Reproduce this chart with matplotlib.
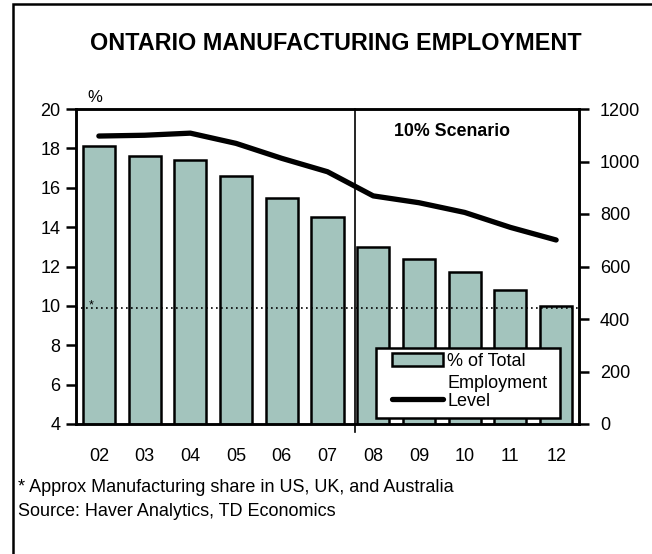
import matplotlib
matplotlib.use("Agg")
import matplotlib.pyplot as plt
from matplotlib.patches import Rectangle
from matplotlib.lines import Line2D

plt.rcParams['font.family'] = ['Liberation Sans', 'DejaVu Sans']

years = ["02", "03", "04", "05", "06", "07", "08", "09", "10", "11", "12"]
share_pct = [18.1, 17.6, 17.4, 16.6, 15.5, 14.5, 13.0, 12.4, 11.7, 10.8, 10.0]
level_thousands = [1097, 1100, 1108, 1069, 1012, 961, 869, 843, 806, 749, 701]
peer_share = 9.9
left_ticks = [4, 6, 8, 10, 12, 14, 16, 18, 20]
right_ticks = [0, 200, 400, 600, 800, 1000, 1200]

W, H = 652, 554
fig = plt.figure(figsize=(W / 100, H / 100), dpi=100)

# outer frame
fig.patches.append(Rectangle((13 / W, -0.05), 1.1, 1 - 4 / H + 0.05,
                             transform=fig.transFigure, fill=False,
                             edgecolor='black', linewidth=1.8))

L, R, T, B = 76, 579, 109, 424
ax = fig.add_axes([L / W, 1 - B / H, (R - L) / W, (B - T) / H])
x = list(range(len(years)))

ax.bar(x, share_pct, width=0.70, bottom=0, color='#A3C4BD',
       edgecolor='black', linewidth=1.8, zorder=2)
ax.axhline(peer_share, color='black', linestyle=(0, (1, 2)), linewidth=1.2, zorder=3)
ax.text(-0.17, peer_share + 0.12, '*', fontsize=9, ha='center', va='center')

# forecast divider, running slightly past the bottom axis
ax.plot([5.6, 5.6], [3.6, 20], color='black', linewidth=1.2, zorder=3, clip_on=False)

ax.set_xlim(-0.5, len(years) - 0.5)
ax.set_ylim(4, 20)
ax.set_yticks(left_ticks)
ax.set_xticks(x)
ax.set_xticklabels(years)
ax.tick_params(axis='x', length=0, pad=17, labelsize=13)
ax.tick_params(axis='y', direction='out', length=7, width=1.8, pad=4, labelsize=13)
for s in ax.spines.values():
    s.set_linewidth(1.8)

ax2 = ax.twinx()
ax2.plot(x, level_thousands, color='black', linewidth=3.8, solid_capstyle='round',
         solid_joinstyle='round', zorder=4)
ax2.set_ylim(0, 1200)
ax2.set_yticks(right_ticks)
ax2.tick_params(axis='y', direction='out', length=7, width=1.8, pad=8, labelsize=13)
for s in ax2.spines.values():
    s.set_linewidth(1.8)

# legend
ax2.add_patch(Rectangle((0.596, 0.019), 0.366, 0.222, transform=ax2.transAxes,
                        facecolor='white', edgecolor='black', linewidth=1.8, zorder=5))
ax2.add_patch(Rectangle((0.628, 0.184), 0.102, 0.041, transform=ax2.transAxes,
                        facecolor='#A3C4BD', edgecolor='black', linewidth=1.8, zorder=6))
ax2.add_line(Line2D([0.628, 0.730], [0.080, 0.080], transform=ax2.transAxes,
                    color='black', linewidth=3.8, solid_capstyle='round', zorder=6))
ax2.text(0.738, 0.198, '% of Total', transform=ax2.transAxes, fontsize=13,
         ha='left', va='center', zorder=7)
ax2.text(0.738, 0.128, 'Employment', transform=ax2.transAxes, fontsize=13,
         ha='left', va='center', zorder=7)
ax2.text(0.738, 0.072, 'Level', transform=ax2.transAxes, fontsize=13,
         ha='left', va='center', zorder=7)

ax.text(0.022, 1.012, '%', transform=ax.transAxes, fontsize=12, ha='left', va='bottom')
ax.text(0.748, 0.93, '10% Scenario', transform=ax.transAxes, fontsize=12.8,
        fontweight='bold', ha='center', va='center')

fig.text(336 / W, 1 - 44 / H, 'ONTARIO MANUFACTURING EMPLOYMENT', fontsize=16.8,
         fontweight='bold', ha='center', va='center')
fig.text(18 / W, 1 - 488 / H, '* Approx Manufacturing share in US, UK, and Australia',
         fontsize=13, ha='left', va='center')
fig.text(18 / W, 1 - 511 / H, 'Source: Haver Analytics, TD Economics',
         fontsize=13, ha='left', va='center')

fig.savefig('out.png', dpi=100)
